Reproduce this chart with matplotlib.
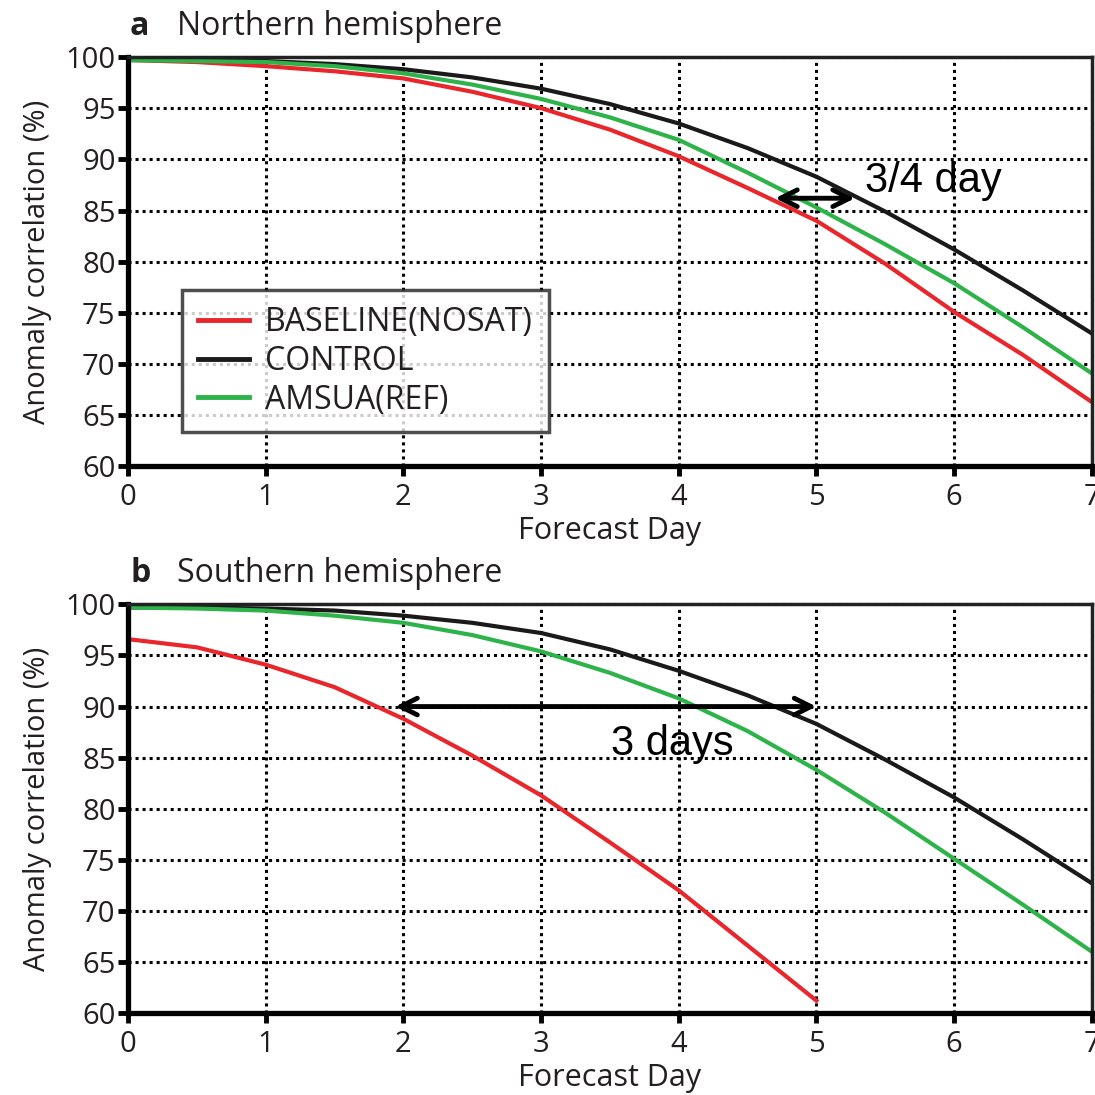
import numpy as np
import matplotlib.pyplot as plt

# ---------------- data ----------------
dni = [0, 0.5, 1, 1.5, 2, 2.5, 3, 3.5, 4, 4.5, 5, 5.5, 6, 6.5, 7]

# a) polkula polnocna
nh_control = [99.7, 99.7, 99.6, 99.3, 98.8, 98.0, 96.9, 95.4, 93.5, 91.1, 88.3, 84.9, 81.2, 77.2, 73.0]
nh_amsua = [99.7, 99.6, 99.5, 99.1, 98.4, 97.3, 95.9, 94.1, 91.9, 88.7, 85.3, 81.7, 77.9, 73.6, 69.1]
nh_baseline = [99.7, 99.5, 99.1, 98.6, 97.9, 96.6, 95.0, 92.9, 90.3, 87.2, 84.0, 79.8, 75.1, 70.9, 66.3]

# b) polkula poludniowa
sh_control = [99.7, 99.7, 99.6, 99.4, 98.9, 98.2, 97.2, 95.6, 93.5, 91.1, 88.3, 84.8, 81.1, 77.0, 72.7]
sh_amsua = [99.7, 99.6, 99.4, 98.9, 98.2, 97.0, 95.4, 93.3, 90.8, 87.6, 83.8, 79.6, 75.1, 70.6, 66.0]
dni_baseline_sh = [0, 0.5, 1, 1.5, 2, 2.5, 3, 3.5, 4, 4.5, 5]
sh_baseline = [96.6, 95.8, 94.1, 91.9, 88.8, 85.2, 81.3, 76.7, 72.0, 66.6, 61.2]

etykiety = ["BASELINE(NOSAT)", "CONTROL", "AMSUA(REF)"]
kolory = ["#e8262b", "#1a1a1a", "#2db34a"]

plt.rcParams['font.family'] = ['Open Sans', 'DejaVu Sans']
szary = "#231f20"

fig = plt.figure(figsize=(10.95, 10.95), dpi=100)


def przygotuj_os(ax, litera, tytul):
    ax.set_xlim(0, 7)
    ax.set_ylim(60, 100)
    ax.set_xticks(range(8))
    ax.set_yticks(range(60, 101, 5))
    ax.grid(True, color='black', linestyle=(0, (1.0, 1.3)), linewidth=2.2)
    ax.tick_params(direction='out', length=7, width=3.5, labelsize=21,
                   labelcolor=szary, pad=2)
    ax.tick_params(axis='x', pad=5)
    for s in ['left', 'bottom']:
        ax.spines[s].set_linewidth(3.8)
    for s in ['top', 'right']:
        ax.spines[s].set_linewidth(2.5)
        ax.spines[s].set_color('#222222')
    ax.set_xlabel("Forecast Day", fontsize=22, color=szary, labelpad=3)
    ax.set_ylabel("Anomaly correlation (%)", fontsize=21, color=szary, labelpad=10)
    ax.text(0.002, 1.035, litera, transform=ax.transAxes, fontsize=23,
            fontweight='bold', color=szary, va='bottom')
    ax.text(0.051, 1.035, tytul, transform=ax.transAxes, fontsize=23,
            color=szary, va='bottom')


# ---------------------Panel a---------------------
ax1 = fig.add_axes([0.117, 0.574, 0.880, 0.374])
przygotuj_os(ax1, "a", "Northern hemisphere")
ax1.plot(dni, nh_baseline, color=kolory[0], lw=3, label=etykiety[0])
ax1.plot(dni, nh_control, color=kolory[1], lw=3, label=etykiety[1])
ax1.plot(dni, nh_amsua, color=kolory[2], lw=3, label=etykiety[2])

leg = ax1.legend(loc='lower left', bbox_to_anchor=(0.056, 0.083), fontsize=23,
                 frameon=True, fancybox=False, handlelength=1.6,
                 handletextpad=0.5, borderpad=0.5, labelspacing=0.18,
                 borderaxespad=0)
leg.get_frame().set_edgecolor('#222222')
leg.get_frame().set_linewidth(2.5)
for t in leg.get_texts():
    t.set_color(szary)
for l in leg.get_lines():
    l.set_linewidth(3.5)

ax1.annotate('', xy=(4.68, 86.2), xytext=(5.3, 86.2),
             arrowprops=dict(arrowstyle='<->', lw=3.5, color='black', mutation_scale=30))
ax1.text(5.35, 87.9, "3/4 day", fontsize=30, family='Liberation Sans', va='center')

# ---------------------Panel b---------------------
ax2 = fig.add_axes([0.117, 0.075, 0.880, 0.373])
przygotuj_os(ax2, "b", "Southern hemisphere")
ax2.plot(dni_baseline_sh, sh_baseline, color=kolory[0], lw=3)
ax2.plot(dni, sh_control, color=kolory[1], lw=3)
ax2.plot(dni, sh_amsua, color=kolory[2], lw=3)

ax2.annotate('', xy=(1.92, 90), xytext=(5.02, 90),
             arrowprops=dict(arrowstyle='<->', lw=3.5, color='black', mutation_scale=30))
ax2.text(3.95, 86.3, "3 days", fontsize=30, family='Liberation Sans',
         va='center', ha='center')

plt.savefig('out.png', dpi=100)
